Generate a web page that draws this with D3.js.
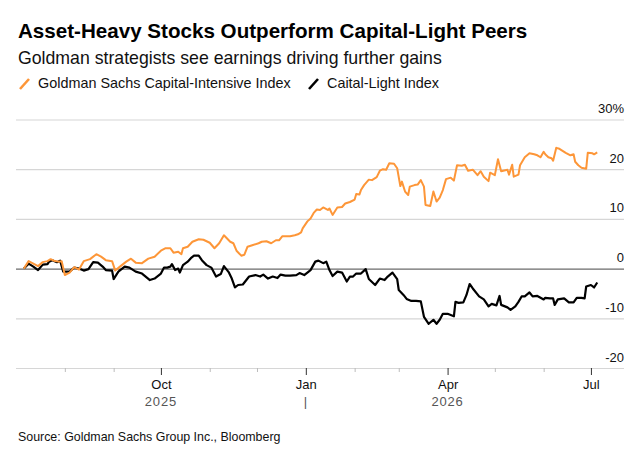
<!DOCTYPE html>
<html>
<head>
<meta charset="utf-8">
<script src="https://cdn.jsdelivr.net/npm/d3@7"></script>
<style>
  body { margin: 0; background: #fff; }
  svg { font-family: "Liberation Sans", Arial, sans-serif; display: block; }
  .grid line { stroke: #d6d6d6; stroke-width: 1.2; }
  .grid .zero line { stroke: #6b6b6b; }
  .grid text { font-size: 13px; fill: #111; }
  .minor line { stroke: #bdbdbd; }
  .major line { stroke: #333; }
  .major text { font-size: 13px; fill: #111; }
</style>
</head>
<body>
<svg id="chart"></svg>
<script>
// chart data
const intensiveDates = [
  "2025-07-06","2025-07-09","2025-07-12","2025-07-15","2025-07-18","2025-07-21","2025-07-23","2025-07-25","2025-07-28","2025-07-30",
  "2025-08-01","2025-08-04","2025-08-07","2025-08-10","2025-08-13","2025-08-17","2025-08-21","2025-08-24","2025-08-27","2025-08-31",
  "2025-09-02","2025-09-05","2025-09-09","2025-09-12","2025-09-15","2025-09-19","2025-09-23","2025-09-27",
  "2025-10-01","2025-10-04","2025-10-07","2025-10-09","2025-10-12","2025-10-14","2025-10-15","2025-10-18","2025-10-21","2025-10-25","2025-10-28",
  "2025-11-01","2025-11-04","2025-11-07","2025-11-10","2025-11-14","2025-11-16","2025-11-18","2025-11-21","2025-11-23","2025-11-25","2025-11-28",
  "2025-12-02","2025-12-04","2025-12-07","2025-12-10","2025-12-13","2025-12-15","2025-12-17","2025-12-22","2025-12-25","2025-12-27","2025-12-29","2025-12-30",
  "2026-01-02","2026-01-04","2026-01-06","2026-01-08","2026-01-10","2026-01-12","2026-01-15","2026-01-16","2026-01-18","2026-01-21","2026-01-24","2026-01-26","2026-01-29",
  "2026-02-01","2026-02-02","2026-02-04","2026-02-05","2026-02-07","2026-02-10","2026-02-12","2026-02-15","2026-02-17","2026-02-19","2026-02-21","2026-02-23","2026-02-26","2026-02-28",
  "2026-03-02","2026-03-03","2026-03-05","2026-03-07","2026-03-08","2026-03-11","2026-03-13","2026-03-15","2026-03-17","2026-03-18","2026-03-21","2026-03-23","2026-03-25","2026-03-27","2026-03-29","2026-03-31",
  "2026-04-03","2026-04-05","2026-04-07","2026-04-10","2026-04-12","2026-04-14","2026-04-17","2026-04-20","2026-04-22","2026-04-24","2026-04-27","2026-04-28",
  "2026-05-01","2026-05-03","2026-05-05","2026-05-09","2026-05-10","2026-05-12","2026-05-13","2026-05-16","2026-05-17","2026-05-20","2026-05-23","2026-05-26","2026-05-28","2026-05-30",
  "2026-06-01","2026-06-02","2026-06-04","2026-06-06","2026-06-07","2026-06-09","2026-06-11","2026-06-15","2026-06-18","2026-06-20","2026-06-21","2026-06-23","2026-06-25","2026-06-28","2026-06-29",
  "2026-07-02","2026-07-03","2026-07-05"
];
const intensiveValues = [
  0, 1.5, 1.0, 0.5, 1.3, 1.5, 1.9, 1.6, 1.4, 1.5,
  -1.3, -0.8, 0.3, -0.2, 1.5, 1.9, 2.9, 2.4, 1.7, 1.5,
  -0.4, 0.4, 1.4, 2.0, 1.2, 1.1, 2.0, 2.4,
  3.6, 4.1, 4.1, 3.2, 3.4, 2.9, 4.1, 4.4, 5.4, 5.9, 5.8,
  5.2, 4.1, 5.1, 6.7, 5.4, 5.1, 3.6, 2.6, 2.8, 4.4, 4.7,
  5.1, 5.4, 5.5, 5.1, 5.7, 5.7, 6.5, 6.5, 6.7, 6.9, 7.3, 8.1,
  9.5, 10.1, 11.2, 11.9, 11.8, 12.3, 11.8, 12.1, 10.8, 12.3, 12.4, 13.1, 13.4,
  13.9, 15.0, 14.9, 15.8, 16.8, 17.9, 17.8, 18.4, 19.7, 20.0, 19.9, 21.2, 21.1, 20.2,
  16.6, 17.5, 15.5, 14.8, 16.5, 16.8, 16.9, 17.8, 16.5, 12.8, 12.6, 15.5, 13.5, 14.3, 15.8, 18.0,
  18.3, 17.7, 20.8, 20.7, 20.9, 19.7, 19.9, 18.8, 19.6, 18.5, 17.6, 19.3,
  18.8, 22.0, 19.6, 19.9, 18.9, 20.9, 18.5, 18.9, 20.8, 22.4, 23.2, 23.0, 22.8, 22.4,
  23.5, 23.0, 22.4, 22.2, 21.7, 24.3, 24.1, 23.3, 22.8, 23.0, 21.5, 20.8, 20.3, 20.1, 23.3,
  23.2, 23.0, 23.4
];

const lightDates = [
  "2025-07-06","2025-07-09","2025-07-12","2025-07-15","2025-07-18","2025-07-21","2025-07-22","2025-07-24","2025-07-27","2025-07-29","2025-07-31",
  "2025-08-04","2025-08-07","2025-08-10","2025-08-13","2025-08-16","2025-08-19","2025-08-22","2025-08-25","2025-08-27","2025-08-31",
  "2025-09-01","2025-09-04","2025-09-08","2025-09-11","2025-09-15","2025-09-19","2025-09-24","2025-09-27",
  "2025-10-01","2025-10-03","2025-10-05","2025-10-07","2025-10-08","2025-10-10","2025-10-12","2025-10-13","2025-10-15","2025-10-18","2025-10-20","2025-10-22","2025-10-25","2025-10-27","2025-10-30",
  "2025-11-02","2025-11-05","2025-11-08","2025-11-10","2025-11-13","2025-11-15","2025-11-17","2025-11-19","2025-11-22","2025-11-24","2025-11-26","2025-11-30",
  "2025-12-03","2025-12-05","2025-12-08","2025-12-11","2025-12-14","2025-12-16","2025-12-19","2025-12-22","2025-12-26","2025-12-28","2025-12-31",
  "2026-01-04","2026-01-07","2026-01-09","2026-01-12","2026-01-14","2026-01-16","2026-01-18","2026-01-21","2026-01-24","2026-01-27","2026-01-29","2026-01-31",
  "2026-02-02","2026-02-05","2026-02-08","2026-02-10","2026-02-14","2026-02-17","2026-02-20","2026-02-22","2026-02-25","2026-02-28",
  "2026-03-01","2026-03-04","2026-03-06","2026-03-09","2026-03-12","2026-03-15","2026-03-17","2026-03-20","2026-03-23","2026-03-25","2026-03-27","2026-03-29",
  "2026-04-01","2026-04-05","2026-04-06","2026-04-08","2026-04-11","2026-04-13","2026-04-15","2026-04-17","2026-04-21","2026-04-24","2026-04-27","2026-04-29",
  "2026-05-02","2026-05-04","2026-05-05","2026-05-09","2026-05-11","2026-05-14","2026-05-16","2026-05-18","2026-05-20","2026-05-23","2026-05-25","2026-05-28",
  "2026-06-01","2026-06-02","2026-06-05","2026-06-07","2026-06-08","2026-06-10","2026-06-14","2026-06-17","2026-06-20","2026-06-22","2026-06-25","2026-06-27","2026-06-28",
  "2026-07-01","2026-07-03","2026-07-05"
];
const lightValues = [
  0, 1.0, 0.4, -0.3, 0.8, 0.9, 1.4, 1.7, 1.3, 1.6, -0.6,
  -0.6, 0.2, 0, -0.4, -0.1, 1.3, 1.2, 0.4, -0.3, -0.4,
  -2.1, -0.6, 0.4, 0.2, -0.6, -1.0, -2.3, -2.0,
  -1.0, 0.2, 0.2, 0.4, 0.9, -0.3, 0, -0.8, 0.7, 1.4, 2.1, 2.6, 2.6, 1.7, 0.7,
  0.2, -1.6, -1.1, 0.5, -0.7, -2.0, -3.8, -3.3, -3.2, -2.4, -1.6, -1.3,
  -1.6, -1.2, -2.0, -1.6, -1.9, -1.2, -1.4, -1.4, -1.3, -0.9, -1.3,
  -0.3, 1.4, 1.6, 1.1, 1.4, -0.3, -1.5, -0.6, -0.8, -2.6, -1.6, -1.6,
  -1.0, -1.0, -0.1, -2.1, -3.3, -2.0, -2.3, -1.6, -0.8, -2.1,
  -4.3, -5.3, -6.1, -6.5, -6.5, -6.6, -9.7, -11.1, -10.3, -11.1, -10.3, -9.1,
  -9.1, -9.6, -6.7, -6.9, -6.8, -5.3, -3.1, -4.0, -5.6, -6.2, -7.6, -7.1,
  -7.4, -5.5, -7.3, -7.8, -8.3, -7.6, -6.7, -5.6, -5.6, -4.8, -5.6, -5.5,
  -6.2, -5.9, -6.0, -6.0, -7.3, -6.2, -6.0, -6.8, -6.8, -5.9, -5.9, -6.0, -3.6,
  -3.3, -3.8, -2.8
];

const yTicks = [-20, -10, 0, 10, 20, 30];
const majorMonths = ["2025-10-01", "2026-01-01", "2026-04-01", "2026-07-01"];
const minorMonths = ["2025-08-01", "2025-09-01", "2025-11-01", "2025-12-01", "2026-02-01", "2026-03-01", "2026-05-01", "2026-06-01"];
const yearLabels = [["2025-10-01", "2025"], ["2026-01-01", "|"], ["2026-04-01", "2026"]];

const width = 644;
const height = 455;
const parseDate = d3.timeParse("%Y-%m-%d");
const orange = "#fd9638";

const svg = d3.select("#chart")
    .attr("width", width)
    .attr("height", height);

// titles
svg.append("text")
    .attr("x", 18).attr("y", 38)
    .style("font-size", "20.6px").style("font-weight", "bold")
    .text("Asset-Heavy Stocks Outperform Capital-Light Peers");
svg.append("text")
    .attr("x", 18).attr("y", 64)
    .style("font-size", "17.7px").style("fill", "#111")
    .text("Goldman strategists see earnings driving further gains");

// legend
const legend = [
  {label: "Goldman Sachs Capital-Intensive Index", color: orange, x: 19},
  {label: "Caital-Light Index", color: "#000", x: 308}
];
const lg = svg.append("g").selectAll("g").data(legend).enter().append("g")
    .attr("transform", d => "translate(" + d.x + ",0)");
lg.append("line")
    .attr("x1", 1).attr("y1", 89).attr("x2", 10).attr("y2", 79)
    .attr("stroke", d => d.color).attr("stroke-width", 2.6);
lg.append("text")
    .attr("x", 19).attr("y", 88)
    .style("font-size", "14.4px").style("fill", "#111")
    .text(d => d.label);

// scales
const x = d3.scaleTime()
    .domain([parseDate("2025-07-01"), parseDate("2026-07-22")])
    .range([16, 624]);
const y = d3.scaleLinear()
    .domain([-20, 30])
    .range([368, 119.5]);

// y gridlines + labels
const yAxis = svg.append("g")
    .attr("class", "grid")
    .attr("transform", "translate(624,0)")
    .call(d3.axisLeft(y).tickValues(yTicks).tickSize(608).tickFormat(d => d === 30 ? "30%" : d));
yAxis.select(".domain").remove();
yAxis.selectAll(".tick").classed("zero", d => d === 0);
yAxis.selectAll(".tick text")
    .attr("x", 0).attr("dy", -7)
    .attr("text-anchor", "end");

// x axis ticks
const minorAxis = svg.append("g")
    .attr("class", "minor")
    .attr("transform", "translate(0,368)")
    .call(d3.axisBottom(x).tickValues(minorMonths.map(parseDate)).tickSize(4).tickFormat(""));
minorAxis.select(".domain").remove();

const majorAxis = svg.append("g")
    .attr("class", "major")
    .attr("transform", "translate(0,368)")
    .call(d3.axisBottom(x).tickValues(majorMonths.map(parseDate)).tickSize(7).tickPadding(5).tickFormat(d3.timeFormat("%b")));
majorAxis.select(".domain").remove();

svg.append("g").selectAll("text")
    .data(yearLabels)
    .enter().append("text")
    .attr("x", d => x(parseDate(d[0])))
    .attr("y", 406)
    .attr("text-anchor", "middle")
    .style("font-size", "13px").style("fill", "#555")
    .style("letter-spacing", "0.8px")
    .text(d => d[1]);

// lines
const line = d3.line()
    .x(d => x(d.date))
    .y(d => y(d.value));

const intensive = intensiveDates.map((d, i) => ({date: parseDate(d), value: intensiveValues[i]}));
const light = lightDates.map((d, i) => ({date: parseDate(d), value: lightValues[i]}));

svg.append("path")
    .datum(light)
    .attr("fill", "none")
    .attr("stroke", "#000")
    .attr("stroke-width", 2.2)
    .attr("stroke-linejoin", "round")
    .attr("d", line);

svg.append("path")
    .datum(intensive)
    .attr("fill", "none")
    .attr("stroke", orange)
    .attr("stroke-width", 2)
    .attr("stroke-linejoin", "round")
    .attr("d", line);

// source
svg.append("text")
    .attr("x", 18).attr("y", 441)
    .style("font-size", "12.4px").style("fill", "#111")
    .text("Source: Goldman Sachs Group Inc., Bloomberg");
</script>
</body>
</html>
